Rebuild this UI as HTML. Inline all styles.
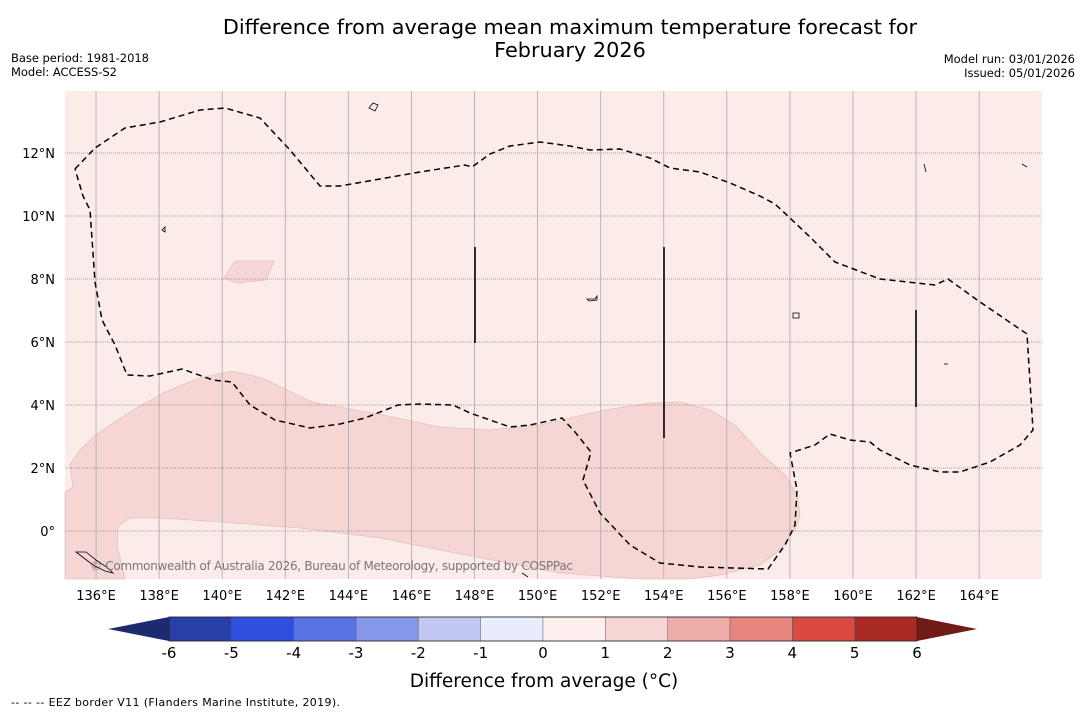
<!DOCTYPE html>
<html><head><meta charset="utf-8"><style>
body{margin:0;background:#fff;font-family:"DejaVu Sans","Liberation Sans",sans-serif;}
svg text{font-family:"DejaVu Sans","Liberation Sans",sans-serif;}
</style></head><body>
<svg id="chart" width="1085" height="713" viewBox="0 0 1085 713" xmlns="http://www.w3.org/2000/svg">
<text x="570" y="34" font-size="20.8" text-anchor="middle">Difference from average mean maximum temperature forecast for</text>
<text x="570" y="57" font-size="20.8" text-anchor="middle">February 2026</text>
<text x="11" y="62" font-size="11.5" textLength="138">Base period: 1981-2018</text>
<text x="11" y="76" font-size="11.5" textLength="106">Model: ACCESS-S2</text>
<text x="1075" y="63" font-size="11.5" text-anchor="end">Model run: 03/01/2026</text>
<text x="1075" y="77" font-size="11.5" text-anchor="end">Issued: 05/01/2026</text>
<g>
<rect x="65" y="91" width="977" height="488" fill="#fbebe9"/>
<polygon fill="#f5d6d5" stroke="#dcb5b3" stroke-width="0.6" points="65,492 73,487 70,465 80,450 97,434 130,412 165,392 200,378 232,371 262,378 312,402 378,414 440,427 490,430 540,425 600,411 650,403 680,402 710,410 735,425 760,453 785,475 797,495 800,515 795,530 780,550 760,565 720,575 690,579 640,579 560,573 440,550 380,538 300,528 220,522 160,518 130,518 118,526 117,545 125,579 65,579"/>
<polygon fill="#f5d6d5" stroke="#dcb5b3" stroke-width="0.6" points="235,261 274,261 266,280 236,283 224,278"/>
<g id="grid"></g>
<polyline fill="none" stroke="#000" stroke-width="1.5" stroke-dasharray="6,4" points="75,169 95,148 125,128 160,122 200,110 225,108 260,118 290,150 320,186 340,186 420,172 465,165 472,167 490,154 510,146 540,142 570,146 590,150 620,149 650,158 670,168 700,172 730,183 760,196 775,204 790,218 810,237 835,262 880,279 935,285 948,279 980,302 1027,334 1033,430 1020,445 990,462 960,472 940,472 910,465 880,450 870,442 850,440 830,434 815,445 790,453 797,490 795,525 785,545 768,569 700,567 660,563 630,545 600,513 583,480 591,452 575,432 562,418 530,425 510,427 470,413 453,405 420,404 398,405 365,418 340,424 310,428 275,420 250,405 232,382 213,380 182,369 150,376 127,375 115,345 102,320 95,282 90,210 83,196 75,169"/>
<line x1="475" y1="247" x2="475" y2="343" stroke="#000" stroke-width="1.6"/>
<line x1="664" y1="247" x2="664" y2="438" stroke="#000" stroke-width="1.6"/>
<line x1="916" y1="310" x2="916" y2="407" stroke="#000" stroke-width="1.6"/>
<g fill="none" stroke="#000" stroke-width="0.8">
<path d="M369,108 l4,-5 l5,2 l-3,6 z"/><path d="M162,230 l3,-3 l0,5 z"/><path d="M587,299 l8,0 l2,-3 l0,4 l-8,1 z"/><path d="M793,313 l6,0 l0,5 l-6,0 z"/><path d="M944,364 l4,0"/><path d="M76,552 l10,0 l10,8 l12,8 l5,5 l-8,-2 l-12,-6 z"/><path d="M522,573 l6,4"/><path d="M1022,164 l5,3"/><path d="M924,164 l2,8"/>
</g>
<text x="90" y="570" font-size="12" fill="#777" textLength="483">© Commonwealth of Australia 2026, Bureau of Meteorology, supported by COSPPac</text>
</g>
<g id="xaxis"></g><g id="yaxis"></g>
<g id="colorbar"></g>
<text x="544" y="687" font-size="18.5" text-anchor="middle">Difference from average (°C)</text>
<text x="11" y="706" font-size="11" textLength="329">-- -- -- EEZ border V11 (Flanders Marine Institute, 2019).</text>
</svg>
<script>
const lonTicks=[136,138,140,142,144,146,148,150,152,154,156,158,160,162,164];
const latTicks=[12,10,8,6,4,2,0];
const cbLevels=[-6,-5,-4,-3,-2,-1,0,1,2,3,4,5,6];
const cbColors=["#283ea9","#2f50df","#5a73e2","#8697e9","#c1c9f3","#e9ecfa","#fdeeed","#f5d6d5","#edaea9","#e6867e","#da4a41","#a82a23"];
const cbUnder="#1c2b70", cbOver="#6f1c17";
const NS="http://www.w3.org/2000/svg";
const xs=lon=>64.5+(lon-135)*31.54;
const ys=lat=>531-lat*31.5;
function mk(tag,attrs,parent,txt){const e=document.createElementNS(NS,tag);for(const k in attrs)e.setAttribute(k,attrs[k]);if(txt!==undefined)e.textContent=txt;parent.appendChild(e);return e;}
const grid=document.getElementById('grid'),xa=document.getElementById('xaxis'),ya=document.getElementById('yaxis'),cb=document.getElementById('colorbar');
lonTicks.forEach(l=>{
 const ln=mk('line',{x1:xs(l),x2:xs(l),y1:91,y2:579,stroke:'#aaa','stroke-width':0.8},grid);
 
 
 const t=mk('text',{x:xs(l),y:600,'font-size':13,'text-anchor':'middle'},xa,l+'°E');
 
 
});
latTicks.forEach(l=>{
 const ln=mk('line',{x1:65,x2:1042,y1:ys(l),y2:ys(l),stroke:'#888','stroke-width':0.8,'stroke-dasharray':'1,1'},grid);
 
 
 const t=mk('text',{x:55,y:ys(l)+5,'font-size':13,'text-anchor':'end'},ya,l===0?'0°':l+'°N');
 
 
});
const cx=v=>169+(v+6)*(917-169)/12;
const y0=617,y1=641;
const u=mk('polygon',{points:`${cx(-6)},${y0} ${cx(-6)},${y1} 108,${(y0+y1)/2}`,fill:cbUnder},cb);


const o=mk('polygon',{points:`${cx(6)},${y0} ${cx(6)},${y1} 977,${(y0+y1)/2}`,fill:cbOver},cb);


cbColors.forEach((c,i)=>{
 const r=mk('rect',{x:cx(cbLevels[i]),y:y0,width:cx(cbLevels[i+1])-cx(cbLevels[i]),height:y1-y0,fill:c,stroke:'#555','stroke-width':0.4},cb);
 
 
});
const ob=mk('rect',{x:cx(-6),y:y0,width:cx(6)-cx(-6),height:y1-y0,fill:'none',stroke:'#222','stroke-width':0.8},cb);


cbLevels.forEach(v=>{
 const t=mk('text',{x:cx(v),y:658,'font-size':15,'text-anchor':'middle'},cb,String(v));
 
 
});
</script>
</body></html>
